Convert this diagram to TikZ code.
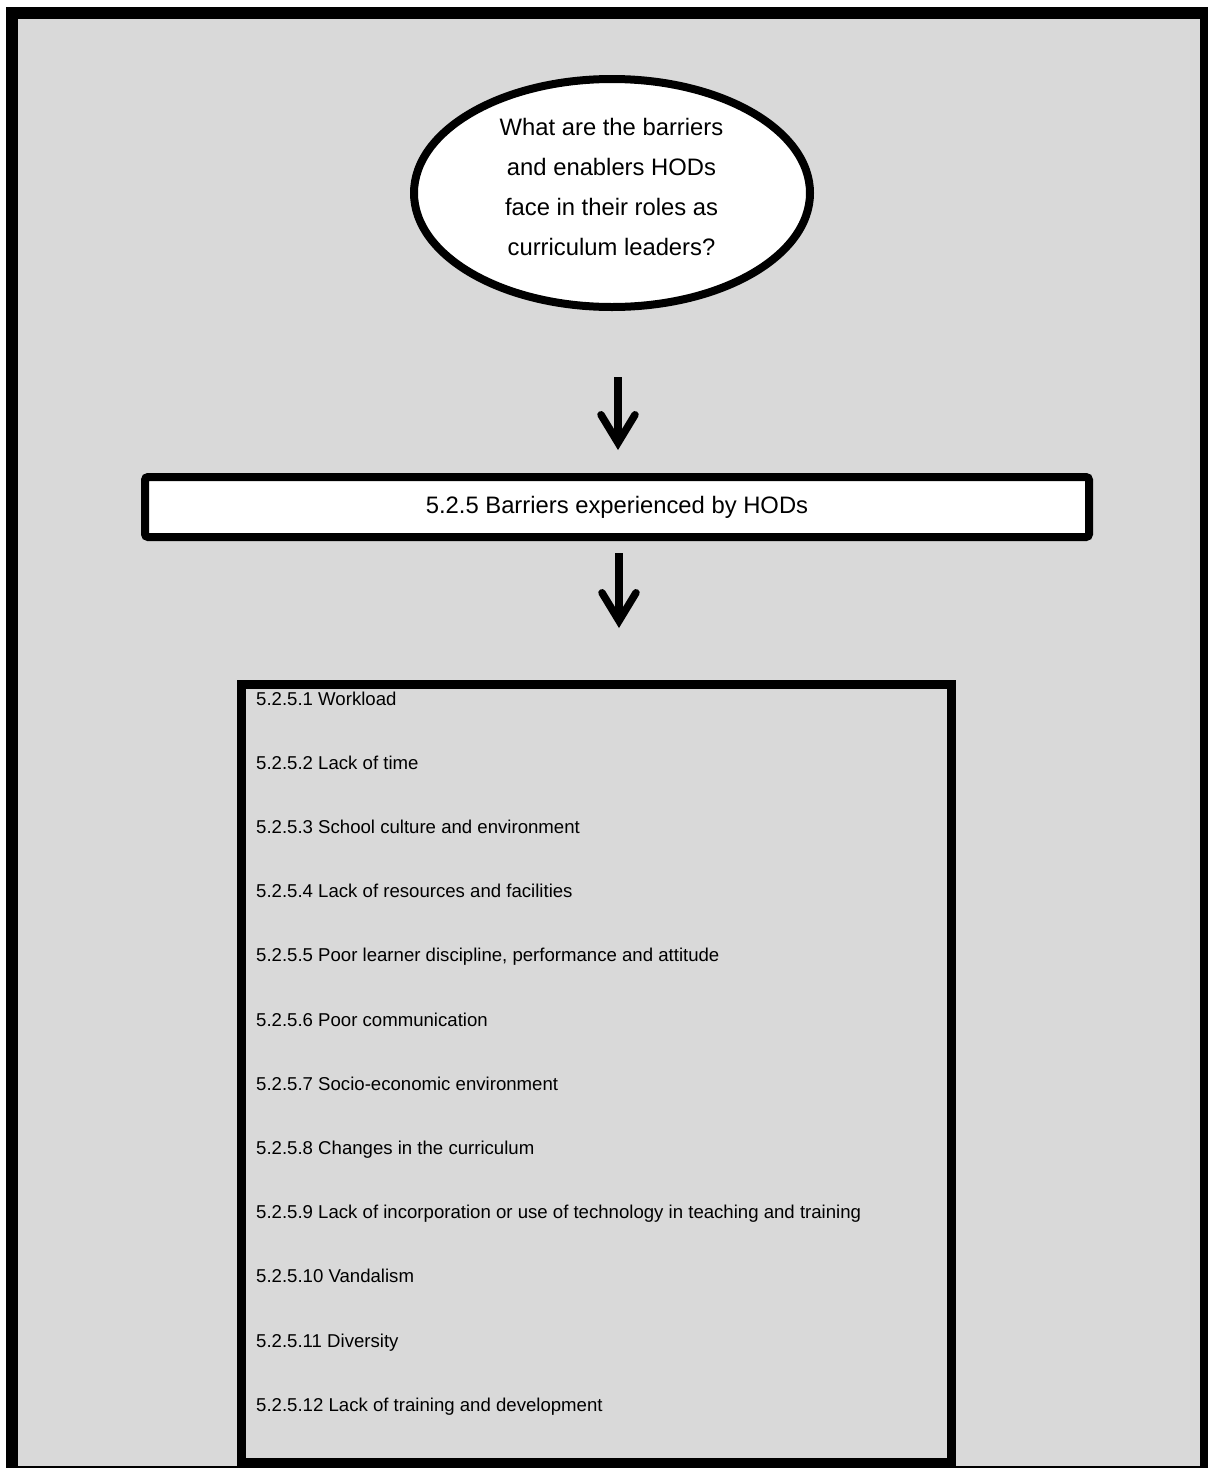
\documentclass[tikz,border=0pt]{standalone}
\usepackage{fontspec}
\setmainfont{Liberation Sans}
\usetikzlibrary{shapes.geometric,arrows.meta}
\definecolor{panelgray}{HTML}{D9D9D9}
\begin{document}
\begin{tikzpicture}[x=1pt,y=-1pt,
  frame/.style={draw=black,line width=12pt,fill=panelgray},
  question/.style={ellipse,draw=black,line width=8pt,fill=white,
    minimum width=396pt,minimum height=228pt,inner sep=0pt},
  qtext/.style={align=center,inner sep=0pt,
    font=\fontsize{23.8pt}{40.3pt}\selectfont},
  heading/.style={rectangle,rounded corners=3pt,draw=black,line width=8pt,fill=white,
    minimum width=944pt,minimum height=60pt,inner sep=0pt,
    font=\fontsize{23.8pt}{28pt}\selectfont},
  listbox/.style={rectangle,draw=black,line width=9pt,
    minimum width=710pt,minimum height=777.5pt,inner sep=0pt},
  item/.style={anchor=base west,inner sep=0pt,
    font=\fontsize{18.6pt}{22pt}\selectfont},
  flowarrow/.style={line width=7.5pt,
    -{Straight Barb[length=28pt,width=34pt,line join=miter,line cap=round]}}]
\useasboundingbox (0,0) rectangle (1208,1468);
\clip (0,0) rectangle (1208,1468);
% page frame and grey panel
\draw[frame] (12,12.5) rectangle (1206,1472);
% research question
\node[question] (q) at (612,193) {};
\node[qtext] (qt) at (611.5,187) {What are the barriers\\and enablers HODs\\face in their roles as\\curriculum leaders?};
% first arrow
\coordinate (a1s) at (618,377);
\coordinate (a1e) at (618,450);
\draw[flowarrow] (a1s) -- (a1e);
% theme heading
\node[heading] (h) at (617,507) {5.2.5 Barriers experienced by HODs};
% second arrow
\coordinate (a2s) at (619,553);
\coordinate (a2e) at (619,628);
\draw[flowarrow] (a2s) -- (a2e);
% list of sub-themes
\node[listbox] (lb) at (596.5,1073.25) {};
\foreach \t [count=\i] in {
  {5.2.5.1 Workload},
  {5.2.5.2 Lack of time},
  {5.2.5.3 School culture and environment},
  {5.2.5.4 Lack of resources and facilities},
  {5.2.5.5 Poor learner discipline, performance and attitude},
  {5.2.5.6 Poor communication},
  {5.2.5.7 Socio-economic environment},
  {5.2.5.8 Changes in the curriculum},
  {5.2.5.9 Lack of incorporation or use of technology in teaching and training},
  {5.2.5.10 Vandalism},
  {5.2.5.11 Diversity},
  {5.2.5.12 Lack of training and development}}
  \node[item] (it\i) at (256,{705+64.2*(\i-1)}) {\t};
\end{tikzpicture}
\end{document}
